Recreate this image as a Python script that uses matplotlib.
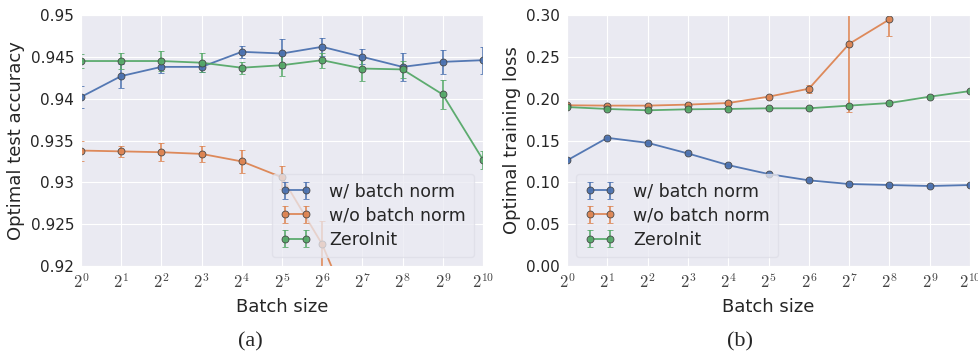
import numpy as np
import matplotlib
matplotlib.use("Agg")
import matplotlib.pyplot as plt
import seaborn as sns

sns.set_style("darkgrid")
plt.rcParams["font.family"] = ["DejaVu Sans"]
plt.rcParams["mathtext.fontset"] = "cm"

# Datos
exponentes = np.arange(0, 11)
batch = 2.0 ** exponentes
etiquetas = ["w/ batch norm", "w/o batch norm", "ZeroInit"]
colores = ["#4C72B0", "#DD8452", "#55A868"]

# (a) precisión de test
acc_bn = [0.9402, 0.9427, 0.9438, 0.9438, 0.9456, 0.9454, 0.9462, 0.9450, 0.9438, 0.9444, 0.9446]
acc_bn_err = [0.0013, 0.0014, 0.0007, 0.0006, 0.0007, 0.0017, 0.0011, 0.0009, 0.0017, 0.0014, 0.0016]
acc_nobn = [0.9338, 0.9337, 0.9336, 0.9334, 0.9325, 0.9306, 0.9226, 0.9112, 0.8900]
acc_nobn_err = [0.0012, 0.0007, 0.0011, 0.0010, 0.0014, 0.0014, 0.0028, 0.0030, 0.0030]
acc_zero = [0.9445, 0.9445, 0.9445, 0.9443, 0.9437, 0.9440, 0.9446, 0.9436, 0.9435, 0.9405, 0.9327]
acc_zero_err = [0.0008, 0.0010, 0.0012, 0.0011, 0.0007, 0.0013, 0.0009, 0.0015, 0.0010, 0.0017, 0.0011]

# (b) pérdida de entrenamiento
loss_bn = [0.1262, 0.1532, 0.1472, 0.1345, 0.1206, 0.1099, 0.1024, 0.0980, 0.0968, 0.0956, 0.0968]
loss_bn_err = [0.001, 0.001, 0.001, 0.001, 0.001, 0.001, 0.001, 0.001, 0.001, 0.001, 0.001]
loss_nobn = [0.1921, 0.1917, 0.1917, 0.1929, 0.1948, 0.2024, 0.2119, 0.2655, 0.2948]
loss_nobn_err = [0.001, 0.001, 0.001, 0.001, 0.001, 0.001, 0.005, 0.0814, 0.020]
loss_zero = [0.1900, 0.1877, 0.1861, 0.1873, 0.1877, 0.1885, 0.1885, 0.1917, 0.1948, 0.2024, 0.2091]
loss_zero_err = [0.001, 0.001, 0.001, 0.001, 0.001, 0.001, 0.001, 0.001, 0.001, 0.001, 0.001]

fig = plt.figure(figsize=(9.79, 3.54), dpi=100)
ax1 = fig.add_axes([0.0827, 0.2486, 0.4106, 0.709])
ax2 = fig.add_axes([0.5792, 0.2486, 0.4117, 0.709])


def dibujar(ax, series, ylim, yticks, ylabel, loc):
    for (y, e), lab, c in zip(series, etiquetas, colores):
        n = len(y)
        ax.errorbar(batch[:n], y, yerr=e, label=lab, color=c, marker="o",
                    markersize=5, markeredgecolor="#444444", markeredgewidth=0.6,
                    lw=1.3, capsize=2.5, elinewidth=1.2, ecolor=c, alpha=0.95)
    ax.set_xscale("log", base=2)
    ax.set_xlim(1, 1024)
    ax.set_xticks(batch)
    ax.set_xticklabels(["$2^{%d}$" % k for k in exponentes], fontsize=12, color="#444444")
    ax.minorticks_off()
    ax.set_ylim(*ylim)
    ax.set_yticks(yticks[0])
    ax.set_yticklabels(yticks[1], fontsize=11)
    ax.tick_params(axis="y", which="major", length=3, color="#333333", pad=2)
    ax.tick_params(axis="x", which="major", length=0, pad=5)
    ax.set_xlabel("Batch size", fontsize=13)
    ax.set_ylabel(ylabel, fontsize=13)
    leg = ax.legend(loc=loc, fontsize=12.5, frameon=True, framealpha=0.75,
                    numpoints=2, handlelength=1.8, handletextpad=1.0,
                    borderpad=0.5, labelspacing=0.35)
    leg.get_frame().set_facecolor("#EAEAF2")
    leg.get_frame().set_edgecolor("#DDDDE6")
    leg.set_zorder(5)


dibujar(ax1, [(acc_bn, acc_bn_err), (acc_nobn, acc_nobn_err), (acc_zero, acc_zero_err)],
        (0.92, 0.95),
        (np.arange(0.92, 0.9501, 0.005), ["0.92", "0.925", "0.93", "0.935", "0.94", "0.945", "0.95"]),
        "Optimal test accuracy", "lower right")
dibujar(ax2, [(loss_bn, loss_bn_err), (loss_nobn, loss_nobn_err), (loss_zero, loss_zero_err)],
        (0.0, 0.30),
        (np.arange(0, 0.301, 0.05), ["0.00", "0.05", "0.10", "0.15", "0.20", "0.25", "0.30"]),
        "Optimal training loss", "lower left")

fig.text(250 / 979, 1 - 342 / 354, "(a)", ha="center", va="center",
         fontsize=16, family="Liberation Serif")
fig.text(740 / 979, 1 - 342 / 354, "(b)", ha="center", va="center",
         fontsize=16, family="Liberation Serif")

fig.savefig("out.png", dpi=100)
